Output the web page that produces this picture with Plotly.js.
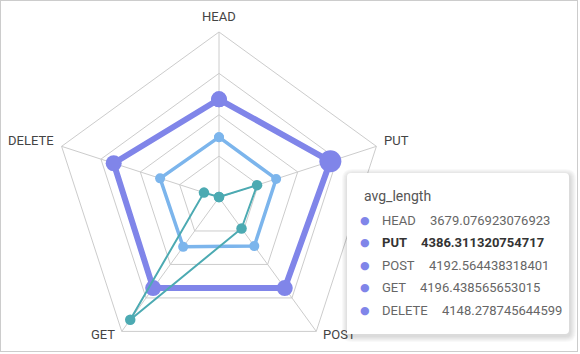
<!DOCTYPE html>
<html><head><meta charset="utf-8">
<script src="https://cdn.plot.ly/plotly-3.0.1.min.js"></script>
<style>
html,body{margin:0;padding:0;overflow:hidden;background:#fff;}
#wrap{position:relative;width:580px;height:354px;overflow:hidden;background:#fff;}
#chart{position:absolute;left:0;top:0;width:580px;height:380px;}
#frame{position:absolute;left:0;top:0;width:578px;height:352px;border:1px solid #ccc;box-sizing:border-box;pointer-events:none;}
</style></head><body>
<div id="wrap"><div id="chart"></div><div id="frame"></div></div>
<script>
// ---- data ----
const categories = ['HEAD', 'PUT', 'POST', 'GET', 'DELETE'];
const avgLength = [3679.076923076923, 4386.311320754717, 4192.564438318401, 4196.438565653015, 4148.278745644599];
const seriesB = [2260, 2250, 2250, 2285, 2320];
const seriesC = [20, 1500, 1435, 5657, 592];
const radialMax = 6200;
const tooltipTitle = 'avg_length';
const highlighted = 'PUT';

// ---- layout helpers ----
const W = 580, H = 380;
const px = x => x / W;
const py = y => 1 - y / H;
const FONT = 'Roboto, "Noto Sans", sans-serif';

function closeLoop(arr) { return arr.concat([arr[0]]); }

const purpleSizes = categories.map(c => c === highlighted ? 22 : 16);

const traces = [
  {
    type: 'scatterpolar', name: 'avg_length', mode: 'lines+markers',
    theta: closeLoop(categories), r: closeLoop(avgLength),
    line: {color: '#8085e9', width: 6},
    marker: {color: '#8085e9', size: closeLoop(purpleSizes), opacity: 1, line: {width: 0}},
    hoverinfo: 'skip', showlegend: false
  },
  {
    type: 'scatterpolar', name: 'series_b', mode: 'lines+markers',
    theta: closeLoop(categories), r: closeLoop(seriesB),
    line: {color: '#7cb5ec', width: 3.5},
    marker: {color: '#7cb5ec', size: 10, opacity: 1, line: {width: 0}},
    hoverinfo: 'skip', showlegend: false
  },
  {
    type: 'scatterpolar', name: 'series_c', mode: 'lines+markers',
    theta: closeLoop(categories), r: closeLoop(seriesC),
    line: {color: '#4caab2', width: 2},
    marker: {color: '#4caab2', size: 10.5, opacity: 1, line: {width: 0}},
    hoverinfo: 'skip', showlegend: false
  }
];

// rounded rectangle path in paper coords from pixel coords
function roundRect(x0, y0, x1, y1, r) {
  const P = (x, y) => px(x) + ',' + py(y);
  return 'M' + P(x0 + r, y0) + ' L' + P(x1 - r, y0) + ' Q' + P(x1, y0) + ' ' + P(x1, y0 + r) +
    ' L' + P(x1, y1 - r) + ' Q' + P(x1, y1) + ' ' + P(x1 - r, y1) +
    ' L' + P(x0 + r, y1) + ' Q' + P(x0, y1) + ' ' + P(x0, y1 - r) +
    ' L' + P(x0, y0 + r) + ' Q' + P(x0, y0) + ' ' + P(x0 + r, y0) + ' Z';
}

const box = {x0: 347, y0: 173, x1: 569, y1: 334};
const shapes = [];
for (let i = 6; i >= 1; i--) {
  shapes.push({type: 'path', xref: 'paper', yref: 'paper', layer: 'above',
    path: roundRect(box.x0 - i + 1, box.y0 - i + 2, box.x1 + i + 1, box.y1 + i + 2, 4 + i),
    fillcolor: 'rgba(0,0,0,0.022)', line: {width: 0}});
}
shapes.push({type: 'path', xref: 'paper', yref: 'paper', layer: 'above',
  path: roundRect(box.x0, box.y0, box.x1, box.y1, 4),
  fillcolor: '#ffffff', line: {width: 0}});

const annotations = [];

// axis names placed just outside the outer polygon
const cx = 219, cy = 197.5, R = 165.5;
categories.forEach((c, i) => {
  const a = (90 - i * 72) * Math.PI / 180;
  const dx = Math.cos(a), dy = -Math.sin(a);
  const horiz = Math.abs(dy) < 0.5;
  const rr = R + (horiz ? 6 : 8);
  const xa = dx > 0.1 ? 'left' : (dx < -0.1 ? 'right' : 'center');
  const ya = dy < -0.9 ? 'bottom' : 'middle';
  const ys = dy < -0.9 ? -2 : (dy > 0.5 ? 3 : 4);
  annotations.push({xref: 'paper', yref: 'paper', x: px(cx + rr * dx), y: py(cy + rr * dy),
    xanchor: xa, yanchor: ya, yshift: ys, text: c, showarrow: false,
    font: {family: FONT, size: 13, color: '#444'}});
});

// white cover so the tooltip sits above the axis names (as in the original)
annotations.push({xref: 'paper', yref: 'paper', x: px(box.x0), y: py(box.y1),
  xanchor: 'left', yanchor: 'bottom', text: ' ', showarrow: false,
  width: 60, height: 30, bgcolor: '#ffffff', borderpad: 0, borderwidth: 0, font: {size: 2}});

annotations.push({xref: 'paper', yref: 'paper', x: px(362), y: py(196), xanchor: 'left', yanchor: 'middle',
  text: tooltipTitle, showarrow: false, font: {family: FONT, size: 14, color: '#555'}});

const ctx = document.createElement('canvas').getContext('2d');
function textWidth(t, bold) { ctx.font = (bold ? 'bold ' : '') + '13px Roboto'; return ctx.measureText(t).width; }

categories.forEach((c, i) => {
  const yc = 220 + i * 22.5;
  const bold = c === highlighted;
  annotations.push({xref: 'paper', yref: 'paper', x: px(365), y: py(yc), xanchor: 'center', yanchor: 'middle',
    text: '●', showarrow: false, font: {family: 'DejaVu Sans', size: 11, color: '#8085e9'}});
  const col = bold ? '#333' : '#666';
  annotations.push({xref: 'paper', yref: 'paper', x: px(380), y: py(yc), xanchor: 'left', yanchor: 'middle',
    text: bold ? '<b>' + c + '</b>' : c, showarrow: false, font: {family: FONT, size: 13, color: col}});
  const vx = 380 + textWidth(c, bold) + 14;
  const v = String(avgLength[i]);
  annotations.push({xref: 'paper', yref: 'paper', x: px(vx), y: py(yc), xanchor: 'left', yanchor: 'middle',
    text: bold ? '<b>' + v + '</b>' : v, showarrow: false, font: {family: FONT, size: 13, color: col}});
});

const layout = {
  width: W, height: H,
  margin: {l: 0, r: 0, t: 0, b: 0},
  paper_bgcolor: 'rgba(0,0,0,0)', plot_bgcolor: 'rgba(0,0,0,0)',
  showlegend: false,
  font: {family: FONT, size: 13, color: '#444'},
  polar: {
    domain: {x: [px(cx - R), px(cx + R)], y: [py(cy + R), py(cy - R)]},
    bgcolor: 'rgba(0,0,0,0)',
    gridshape: 'linear',
    radialaxis: {range: [0, radialMax], tick0: 0, dtick: radialMax / 4, showticklabels: false, ticks: '',
      showline: false, gridcolor: '#cccccc', gridwidth: 1},
    angularaxis: {type: 'category', categoryarray: categories, rotation: 90, direction: 'clockwise',
      showline: true, linecolor: '#cccccc', linewidth: 1, gridcolor: '#cccccc', ticks: '',
      showticklabels: false}
  },
  shapes: shapes,
  annotations: annotations
};

Plotly.newPlot('chart', traces, layout, {displayModeBar: false, staticPlot: true});
</script>
</body></html>
